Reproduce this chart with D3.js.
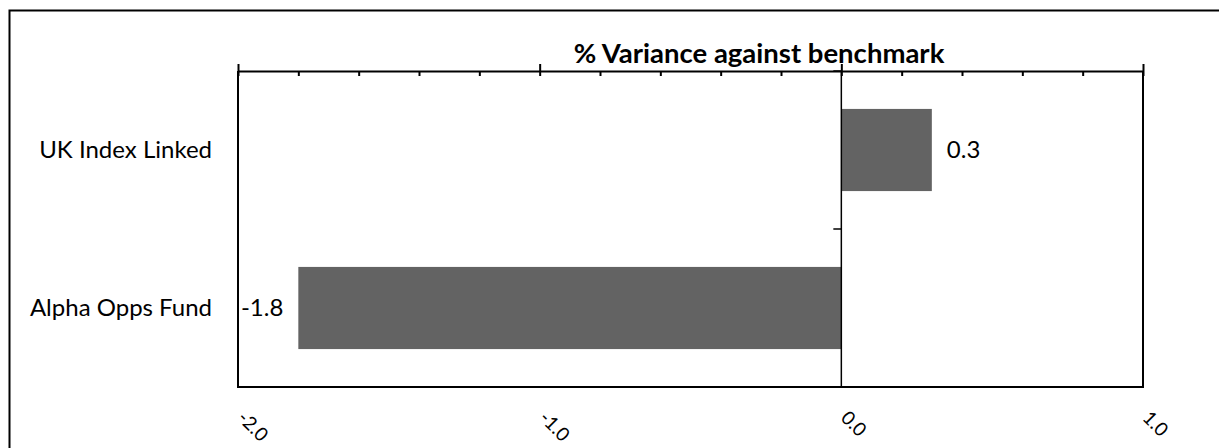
<!DOCTYPE html>
<html>
<head>
<meta charset="utf-8">
<script src="https://cdn.jsdelivr.net/npm/d3@7"></script>
<style>
  html, body { margin: 0; padding: 0; background: #fff; }
  svg { display: block; }
  text { font-family: Lato, "Open Sans", sans-serif; fill: #000; }
</style>
</head>
<body>
<svg id="chart" width="1219" height="448"></svg>
<script>
// ---- data ----
const categories = ["UK Index Linked", "Alpha Opps Fund"];
const values = [0.3, -1.8];
const valueLabels = ["0.3", "-1.8"];
const majorTicks = [-2.0, -1.0, 0.0, 1.0];
const minorTicks = d3.range(-20, 11, 2).map(v => v / 10);
const title = "% Variance against benchmark";

// ---- layout ----
const W = 1219, H = 448;
const plot = { left: 238, right: 1143, top: 71, bottom: 387 };

const svg = d3.select("#chart");

// outer border
svg.append("rect")
  .attr("x", 9.5).attr("y", 10.5)
  .attr("width", W + 20).attr("height", H + 20)
  .attr("fill", "none").attr("stroke", "#000").attr("stroke-width", 2);

const x = d3.scaleLinear().domain([-2, 1]).range([plot.left, plot.right]);
const y = d3.scaleBand().domain(categories).range([plot.top, plot.bottom]).padding(0);

// plot box (left, right, bottom)
svg.append("path")
  .attr("d", `M${plot.left},${plot.top}V${plot.bottom}H${plot.right}V${plot.top}`)
  .attr("fill", "none").attr("stroke", "#000").attr("stroke-width", 2);

const rows = categories.map((c, i) => ({ c, v: values[i], l: valueLabels[i] }));

// bars
const barFrac = 0.52;
svg.append("g").selectAll("rect")
  .data(rows)
  .join("rect")
  .attr("x", d => x(Math.min(0, d.v)))
  .attr("width", d => Math.abs(x(d.v) - x(0)))
  .attr("y", d => y(d.c) + y.bandwidth() * (1 - barFrac) / 2)
  .attr("height", y.bandwidth() * barFrac)
  .attr("fill", "#636363");

// data labels
svg.append("g").selectAll("text")
  .data(rows)
  .join("text")
  .attr("x", d => d.v >= 0 ? x(d.v) + 15 : x(d.v) - 15)
  .attr("y", d => y(d.c) + y.bandwidth() / 2)
  .attr("dy", "0.35em")
  .attr("text-anchor", d => d.v >= 0 ? "start" : "end")
  .attr("font-size", 24)
  .text(d => d.l);

// top axis: major ticks up, all ticks down (minor)
const topMajor = svg.append("g")
  .attr("transform", `translate(0,${plot.top})`)
  .call(d3.axisTop(x).tickValues(majorTicks).tickSizeInner(7).tickSizeOuter(0).tickFormat(""));
topMajor.select(".domain").attr("stroke-width", 2);
topMajor.selectAll(".tick line").attr("stroke-width", 2);

const topMinor = svg.append("g")
  .attr("transform", `translate(0,${plot.top})`)
  .call(d3.axisBottom(x).tickValues(minorTicks).tickSizeInner(5).tickSizeOuter(0).tickFormat(""));
topMinor.select(".domain").remove();
topMinor.selectAll(".tick line").attr("stroke-width", 2);

// category axis at zero
const catAxis = svg.append("g")
  .attr("transform", `translate(${x(0)},0)`);
catAxis.append("line")
  .attr("x1", 0).attr("x2", 0)
  .attr("y1", plot.top).attr("y2", plot.bottom)
  .attr("stroke", "#000").attr("stroke-width", 1.5);
const bounds = [plot.top, ...categories.map(c => y(c) + y.bandwidth())];
catAxis.selectAll("line.tk")
  .data(bounds)
  .join("line")
  .attr("class", "tk")
  .attr("x1", -8).attr("x2", 0)
  .attr("y1", d => d).attr("y2", d => d)
  .attr("stroke", "#000").attr("stroke-width", 1.5);

// category labels (left)
svg.append("g").selectAll("text")
  .data(categories)
  .join("text")
  .attr("x", 212)
  .attr("y", d => y(d) + y.bandwidth() / 2)
  .attr("dy", "0.35em")
  .attr("text-anchor", "end")
  .attr("font-size", 24)
  .text(d => d);

// bottom value labels, rotated 45°
const bottom = svg.append("g")
  .attr("transform", `translate(0,${plot.bottom})`)
  .call(d3.axisBottom(x).tickValues(majorTicks).tickSize(0).tickFormat(d => d.toFixed(1)));
bottom.select(".domain").remove();
bottom.selectAll(".tick text")
  .attr("font-family", "Lato, sans-serif")
  .attr("font-size", 19)
  .attr("fill", "#000")
  .attr("text-anchor", "start")
  .attr("x", 0).attr("y", 0).attr("dy", 0)
  .attr("transform", "translate(-2,32) rotate(45)");

// title
svg.append("text")
  .attr("x", 759).attr("y", 63)
  .attr("text-anchor", "middle")
  .attr("font-size", 27.5)
  .attr("font-weight", "bold")
  .text(title);
</script>
</body>
</html>
